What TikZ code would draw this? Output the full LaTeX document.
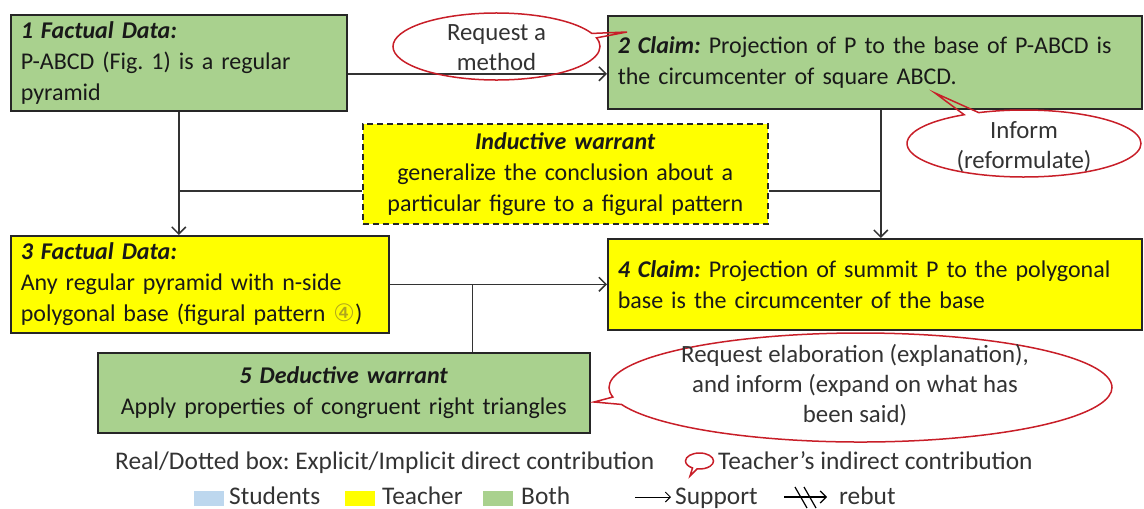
\documentclass[tikz,border=0pt]{standalone}
\usepackage{fontspec}
\setmainfont{Carlito}
\newfontfamily\symfont{DejaVu Sans}
\usetikzlibrary{arrows.meta, shapes.callouts, calc}
\frenchspacing
\hyphenpenalty=10000

\definecolor{bothgreen}{RGB}{169,209,142}
\definecolor{teachyellow}{RGB}{255,255,0}
\definecolor{studblue}{RGB}{189,215,238}
\definecolor{callred}{RGB}{200,30,40}
\definecolor{circcol}{RGB}{175,165,30}

\tikzset{
  box/.style={draw=black!85, line width=1.6pt, anchor=north west, inner xsep=10pt,
    inner ysep=0pt, align=left, text=black!90, font=\fontsize{24}{31}\selectfont},
  wbox/.style={box, align=center},
  link/.style={draw=black!80, line width=1.5pt},
  arr/.style={link, -{Straight Barb[length=7pt,width=14pt,line width=1.5pt]}},
  bubble/.style={ellipse callout, draw=callred, line width=1.5pt, inner sep=0pt,
    callout pointer arc=8},
  bubtext/.style={align=center, text=black!80, inner sep=0pt, font=\fontsize{24.8}{30}\selectfont},
  legtext/.style={anchor=mid west, text=black!80, inner sep=0pt},
  swatch/.style={minimum width=30pt, minimum height=15pt, inner sep=0pt, anchor=west},
}

\begin{document}
\begin{tikzpicture}[x=1pt, y=-1pt, font=\fontsize{25.4}{31}\selectfont]
\useasboundingbox (0,0) rectangle (1144,509);

% argument boxes
\node[box, fill=bothgreen, text width=316pt, minimum height=96pt] (fact1) at (10,14)
  {\textbf{\textit{1 Factual Data:}}\\P-ABCD (Fig. 1) is a regular\\pyramid};
\node[box, fill=bothgreen, text width=514pt, minimum height=93pt] (claim2) at (607,15)
  {\textbf{\textit{2 Claim:}} Projection of P to the base of P-ABCD is\\the circumcenter of square ABCD.};
\node[wbox, fill=teachyellow, dash pattern=on 6pt off 4pt, text width=385pt, minimum height=100pt] (indwar) at (362,123)
  {\textbf{\textit{Inductive warrant}}\\generalize the conclusion about a\\particular figure to a figural pattern};
\node[box, fill=teachyellow, text width=358pt, minimum height=97pt] (fact3) at (10,235)
  {\textbf{\textit{3 Factual Data:}}\\Any regular pyramid with n-side\\polygonal base (figural pattern {\symfont\textcolor{circcol}{④}})};
\node[box, fill=teachyellow, text width=514pt, minimum height=91pt] (claim4) at (607,238)
  {\textbf{\textit{4 Claim:}} Projection of summit P to the polygonal\\base is the circumcenter of the base};
\node[wbox, fill=bothgreen, text width=472pt, minimum height=80pt] (dedwar5) at (97,352)
  {\textbf{\textit{5 Deductive warrant}}\\Apply properties of congruent right triangles};

% connectors
\coordinate (down2) at ([xshift=6pt]claim2.south);
\coordinate (split3) at ([xshift=83pt]fact3.east);
\draw[arr] ([yshift=-11pt]fact1.east) -- ([yshift=-11pt]fact1.east -| claim2.west);
\draw[arr] (fact1.south) -- (fact1.south |- fact3.north);
\draw[arr] (down2) -- (down2 |- claim4.north);
\draw[link] ([yshift=-17pt]indwar.west) -- ([yshift=-17pt]indwar.west -| fact1.south);
\draw[link] ([yshift=-17pt]indwar.east) -- ([yshift=-17pt]indwar.east -| down2);
\draw[arr] (fact3.east) -- (fact3.east -| claim4.west);
\draw[link] (split3) -- (split3 |- dedwar5.north);

% teacher callouts
\node[bubble, minimum width=207pt, minimum height=67pt,
  callout absolute pointer={(627,32)}] (askmethod) at (496.5,46.5) {};
\node[bubtext] (asktext) at ([yshift=-1pt]askmethod.center) {Request a\\method};
\node[bubble, minimum width=234pt, minimum height=67pt,
  callout absolute pointer={(935,93)}] (informbub) at (1024,143.5) {};
\node[bubtext] (informtext) at ([yshift=-3pt]informbub.center) {Inform\\(reformulate)};
\node[bubble, minimum width=503pt, minimum height=109pt,
  callout absolute pointer={(594,402)}] (elabbub) at (860.5,387.5) {};
\node[bubtext] (elabtext) at (855,385)
  {Request elaboration (explanation),\\and inform (expand on what has\\been said)};

% legend
\node[legtext] (legbox) at (115,467) {Real/Dotted box: Explicit/Implicit direct contribution};
\node[bubble, minimum width=28pt, minimum height=16pt, callout pointer arc=20,
  callout absolute pointer={(690,476)}] (legbub) at (699.5,461) {};
\node[legtext] (legbubtext) at (718,467) {Teacher’s indirect contribution};
\node[swatch, fill=studblue] (swstud) at (194,498) {};
\node[legtext] (legstud) at (229,502) {Students};
\node[swatch, fill=teachyellow] (swteach) at (345,498) {};
\node[legtext] (legteach) at (382,502) {Teacher};
\node[swatch, fill=bothgreen] (swboth) at (483,498) {};
\node[legtext] (legboth) at (521,502) {Both};
\coordinate (sup1) at (635,497);
\coordinate (sup2) at (671,497);
\draw[draw=black, line width=1pt, -{Straight Barb[length=5pt,width=10pt]}] (sup1) -- (sup2);
\node[legtext] (legsup) at (675,502) {Support};
\coordinate (reb1) at (784,497);
\coordinate (reb2) at (827,497);
\draw[draw=black, line width=1.2pt, -{Straight Barb[length=6pt,width=12pt]}] (reb1) -- (reb2);
\draw[draw=black, line width=1.2pt] (795,487) -- (807,508) (804,487) -- (816,508);
\node[legtext] (legreb) at (839,502) {rebut};
\end{tikzpicture}
\end{document}
